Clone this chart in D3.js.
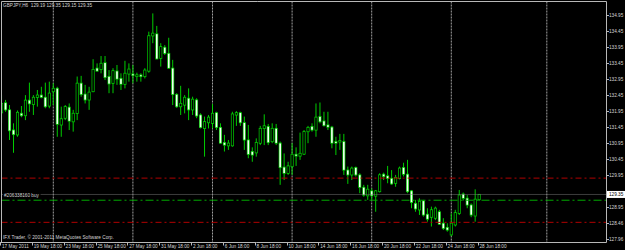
<!DOCTYPE html>
<html><head><meta charset="utf-8">
<script src="https://cdn.jsdelivr.net/npm/d3@7/dist/d3.min.js"></script>
<style>html,body{margin:0;padding:0;background:#000;overflow:hidden}svg{display:block}</style>
</head><body><svg id="c" width="625" height="250"></svg>
<script>
// ---------- data ----------
const titleText = "GBPJPY,H6  129.19 129.35 129.15 129.35";
const copyrightText = "IFX Trader, \u00A9 2001-2011 MetaQuotes Software Corp.";
const orderLabel = "#206338160 buy";
const opens = [131.90,132.21,131.99,131.36,131.21,131.88,131.81,132.29,132.16,132.38,132.45,132.38,132.11,132.56,132.66,131.52,131.73,132.07,131.62,131.88,
132.82,132.48,132.30,132.56,133.29,133.25,133.46,133.03,132.82,133.20,132.97,132.79,133.11,133.11,133.03,133.08,133.03,133.20,134.30,134.36,
133.60,133.94,133.75,133.29,132.47,132.09,132.14,132.35,131.99,132.30,131.83,131.41,131.59,131.57,131.90,131.44,130.97,130.87,130.87,131.83,
131.90,131.59,131.05,130.69,130.65,130.95,131.41,131.47,131.00,131.41,130.95,130.20,130.01,130.22,130.60,130.55,130.61,131.31,131.47,131.36,
131.78,131.64,131.52,131.45,131.00,130.99,131.00,130.11,129.96,130.19,129.96,129.57,129.31,129.46,129.30,129.44,129.98,129.93,129.85,129.70,
129.85,130.19,129.98,129.46,129.07,128.87,129.15,128.73,128.64,128.61,128.81,128.45,128.32,128.09,128.40,128.76,129.36,129.23,129.02,128.68,129.19];
const highs = [132.45,132.30,132.14,131.57,131.97,132.11,132.45,132.84,132.45,132.61,132.71,132.84,132.87,132.82,132.71,132.09,132.14,132.19,131.99,133.03,
133.05,132.77,132.71,133.57,133.44,133.67,133.67,133.23,133.29,133.39,133.13,133.52,133.44,133.39,133.15,133.13,133.29,134.43,135.00,134.61,
134.07,134.01,134.24,133.55,132.51,132.74,132.45,132.66,132.40,132.35,131.88,131.78,131.83,132.17,131.93,131.57,131.21,131.05,131.93,131.95,
131.93,131.78,131.52,130.82,131.10,131.49,131.85,131.55,131.57,131.55,131.00,130.63,130.37,130.95,130.82,131.28,131.36,131.49,131.57,132.19,
132.22,131.93,131.93,131.49,131.15,131.24,131.24,130.22,130.22,130.22,130.01,129.65,129.65,129.54,129.49,130.01,130.03,130.24,130.11,129.96,
130.22,130.34,130.43,129.49,129.18,129.23,129.18,128.92,128.97,128.97,128.87,128.61,128.45,128.76,128.87,129.49,129.41,129.33,129.07,129.51,129.35];
const lows = [131.57,131.93,131.05,130.65,131.15,131.76,131.67,131.93,131.83,132.09,132.35,132.04,132.04,132.14,131.15,131.15,131.67,131.36,131.31,131.67,
132.40,132.19,131.99,132.54,133.18,133.13,132.92,132.51,132.51,132.77,132.61,132.66,132.87,132.82,132.87,132.87,132.97,133.15,134.07,133.57,
133.34,133.70,133.27,132.14,132.05,131.83,131.88,131.67,131.83,131.73,131.41,130.53,131.41,131.41,131.36,130.93,130.69,130.74,130.84,131.49,
131.49,130.74,130.48,130.37,130.53,130.89,130.89,130.89,130.95,130.89,129.65,129.80,129.96,129.96,130.24,130.43,130.58,130.95,131.31,131.15,
131.57,131.47,131.36,130.79,130.58,130.74,129.96,129.68,129.80,129.91,129.39,129.28,129.18,129.18,128.81,129.41,129.80,129.70,129.65,129.59,
129.82,129.91,129.39,128.92,128.81,128.71,128.66,128.50,128.35,128.55,128.40,128.24,128.19,128.05,128.35,128.71,129.16,128.92,128.64,128.50,129.15];
const closes = [132.19,131.99,131.34,131.22,131.91,131.81,132.29,132.18,132.38,132.45,132.38,132.09,132.51,132.66,131.54,131.71,132.09,131.64,131.88,132.82,
132.47,132.30,132.54,133.25,133.20,133.44,133.00,132.80,133.21,132.95,132.79,133.13,133.26,133.06,133.08,133.03,133.23,134.30,134.38,133.58,
133.96,133.75,133.29,132.47,132.09,132.19,132.38,131.99,132.32,131.80,131.44,131.62,131.76,131.88,131.44,130.95,130.89,130.95,131.86,131.90,
131.59,131.05,130.60,130.58,130.97,131.41,131.49,130.97,131.41,130.95,130.19,130.01,130.24,130.60,130.55,130.63,131.31,131.44,131.36,131.76,
131.62,131.50,131.45,130.95,130.95,131.03,130.11,129.96,130.17,129.96,129.57,129.33,129.51,129.31,129.46,129.96,129.91,129.85,129.68,129.88,
130.17,129.98,129.44,129.10,128.90,129.13,128.71,128.58,128.87,128.92,128.42,128.29,128.24,128.45,128.78,129.33,129.23,129.02,128.71,129.20,129.35];
const dateLabels = ["17 May 2011","19 May 18:00","23 May 18:00","25 May 18:00","27 May 18:00","31 May 18:00","2 Jun 18:00","6 Jun 18:00",
"8 Jun 18:00","10 Jun 18:00","14 Jun 18:00","16 Jun 18:00","20 Jun 18:00","22 Jun 18:00","24 Jun 18:00","28 Jun 18:00"];
const dateLabelBars = [0,8,16,24,32,40,48,56,64,72,80,88,96,104,112,120];
const separatorBars = [13,33,53,73,93,113,137];
const priceTicks = [134.95,134.45,133.95,133.45,132.95,132.45,131.95,131.45,130.95,130.45,129.95,128.95,128.46,127.96];
const lastPrice = 129.35;
const orderPrice = 129.17;
const takeProfit = 129.86;
const stopLoss = 128.48;

// ---------- drawing ----------
const svg = d3.select("#c");
const W = 625, H = 250, plotR = 606, plotB = 242, plotT = 1.5, plotL = 1.5;
const x = d3.scaleLinear().domain([13, 113]).range([53.3, 451.3]);
const y = d3.scaleLinear().domain([127.96, 134.95]).range([239, 15]);
const GREEN = "#00cc00";
const FONT = "Liberation Sans, Arial, sans-serif";
const FS = 4.7;
const TXT = "#d4d4d4";

svg.append("rect").attr("width", W).attr("height", H).attr("fill", "#000");

const clip = svg.append("clipPath").attr("id", "pc").append("rect")
  .attr("x", plotL).attr("y", plotT).attr("width", plotR - plotL).attr("height", plotB - plotT);

const plot = svg.append("g").attr("clip-path", "url(#pc)");

// period separators
plot.selectAll("line.sep").data(separatorBars).join("line")
  .attr("x1", d => x(d)).attr("x2", d => x(d))
  .attr("y1", plotT).attr("y2", plotB)
  .attr("stroke", "#a0a0a0").attr("stroke-width", 1).attr("stroke-dasharray", "2,1");

// candles
const bars = d3.range(opens.length);
const cg = plot.append("g");
cg.selectAll("line.wick").data(bars).join("line")
  .attr("x1", i => x(i)).attr("x2", i => x(i))
  .attr("y1", i => y(highs[i])).attr("y2", i => y(lows[i]))
  .attr("stroke", GREEN).attr("stroke-width", 1);
cg.selectAll("rect.body").data(bars).join("rect")
  .attr("x", i => x(i) - 1.5).attr("width", 3)
  .attr("y", i => y(Math.max(opens[i], closes[i])) - 0.5)
  .attr("height", i => Math.max(y(Math.min(opens[i], closes[i])) - y(Math.max(opens[i], closes[i])), 1) + 1)
  .attr("fill", GREEN);
cg.selectAll("rect.inner").data(bars).join("rect")
  .attr("x", i => x(i) - 0.8).attr("width", 1.6)
  .attr("y", i => y(Math.max(opens[i], closes[i])) + 0.3)
  .attr("height", i => Math.max(y(Math.min(opens[i], closes[i])) - y(Math.max(opens[i], closes[i])) - 0.6, 0))
  .attr("fill", i => closes[i] >= opens[i] ? "#000" : "#f4fff4");

// horizontal level lines
plot.append("line").attr("x1", plotL).attr("x2", plotR).attr("y1", y(lastPrice)).attr("y2", y(lastPrice))
  .attr("stroke", "#7a7a7a").attr("stroke-width", 1).attr("stroke-dasharray", "1,1");
const levels = [
  {p: takeProfit, c: "#b00000", dash: "6,3,2,3"},
  {p: stopLoss, c: "#b00000", dash: "6,3,2,3"},
  {p: orderPrice, c: "#00a800", dash: "8,3,2,3"}
];
plot.selectAll("line.lvl").data(levels).join("line")
  .attr("x1", plotL).attr("x2", plotR)
  .attr("y1", d => y(d.p)).attr("y2", d => y(d.p))
  .attr("stroke", d => d.c).attr("stroke-width", 1).attr("stroke-dasharray", d => d.dash);

// order label
const ol = svg.append("text").attr("x", 4).attr("y", y(orderPrice) - 3.6)
  .attr("font-family", FONT).attr("font-size", FS).attr("fill", TXT).text(orderLabel);
const ob = ol.node().getBBox();
svg.insert("rect", "text").attr("x", ob.x - 1).attr("y", ob.y).attr("width", ob.width + 2).attr("height", ob.height).attr("fill", "#000");

// frame
svg.append("path")
  .attr("d", `M${plotL},${plotB}V${plotT}H${plotR + 0.5}V${plotB + 0.5}H0`)
  .attr("fill", "none").attr("stroke", "#b8b8b8").attr("stroke-width", 1);

// right price axis
const ra = svg.append("g");
ra.selectAll("line").data(priceTicks).join("line")
  .attr("x1", plotR).attr("x2", plotR + 3)
  .attr("y1", d => Math.round(y(d)) + 0.5).attr("y2", d => Math.round(y(d)) + 0.5)
  .attr("stroke", "#b8b8b8");
ra.selectAll("text").data(priceTicks).join("text")
  .attr("x", plotR + 3).attr("y", d => y(d) + 1.7)
  .attr("font-family", FONT).attr("font-size", FS).attr("fill", TXT)
  .text(d => d.toFixed(2));

// last price box
svg.append("rect").attr("x", plotR + 1).attr("y", y(lastPrice) - 3.5).attr("width", W - plotR - 1).attr("height", 7).attr("fill", "#ffffff");
svg.append("text").attr("x", plotR + 3).attr("y", y(lastPrice) + 1.7)
  .attr("font-family", FONT).attr("font-size", FS).attr("fill", "#000").text(lastPrice.toFixed(2));

// bottom time axis
const ta = svg.append("g");
ta.selectAll("line").data(dateLabelBars).join("line")
  .attr("x1", d => Math.round(x(d) - 1.5) + 0.5).attr("x2", d => Math.round(x(d) - 1.5) + 0.5)
  .attr("y1", plotB).attr("y2", plotB + 3.5)
  .attr("stroke", "#b8b8b8");
ta.selectAll("text").data(dateLabelBars).join("text")
  .attr("x", d => Math.max(x(d) + 0.3, 2)).attr("y", 247.8)
  .attr("font-family", FONT).attr("font-size", FS).attr("fill", TXT)
  .text((d, k) => dateLabels[k]);

// title and copyright
svg.append("text").attr("x", 3).attr("y", 6.8).attr("font-family", FONT).attr("font-size", FS).attr("fill", TXT)
  .attr("xml:space", "preserve").style("white-space", "pre").text(titleText);
svg.append("text").attr("x", 3).attr("y", 238.8).attr("font-family", FONT).attr("font-size", FS).attr("fill", TXT)
  .text(copyrightText);
</script>
</body></html>
